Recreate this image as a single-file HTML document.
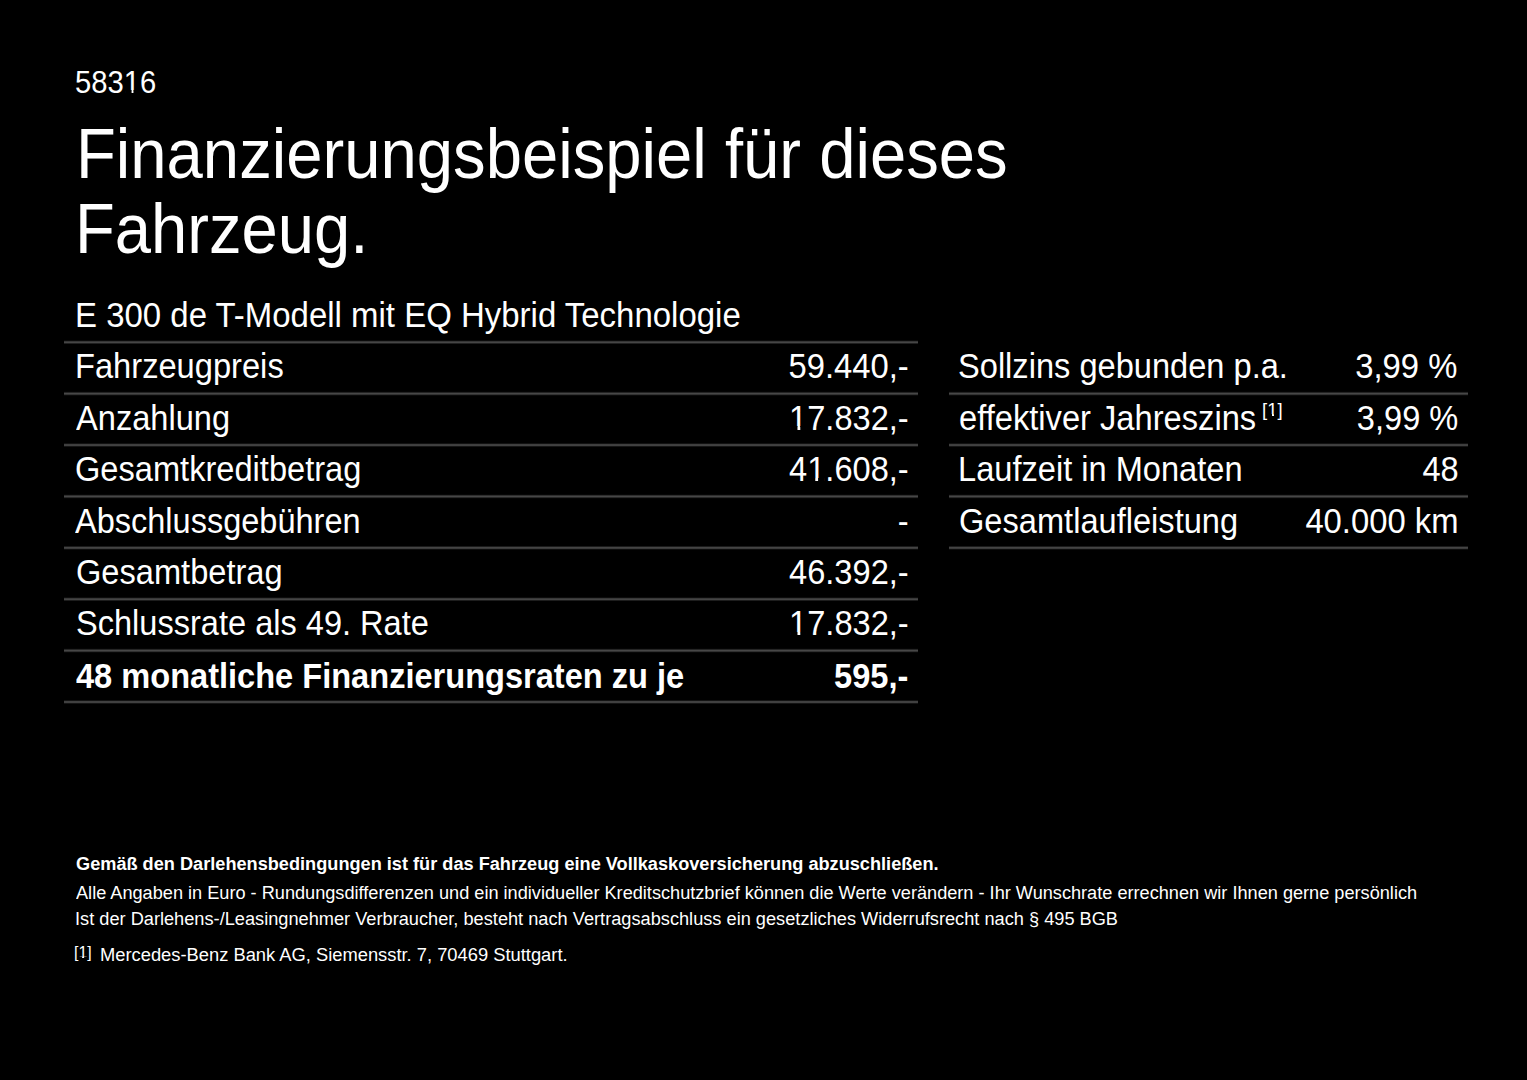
<!DOCTYPE html>
<html lang="de">
<head>
<meta charset="utf-8">
<title>Finanzierungsbeispiel</title>
<style>
html,body{margin:0;padding:0;background:#000;}
body{width:1527px;height:1080px;overflow:hidden;position:relative;color:#fff;font-family:"Liberation Sans",sans-serif;}
.t{position:absolute;white-space:nowrap;line-height:1;}
.l{position:absolute;height:2px;background:#4a4a4a;}
.bl{display:inline-block;width:0;height:0;}
.one{position:relative;}
.one::before,.one::after{content:"";position:absolute;background:#000;bottom:0.17em;height:0.125em;}
.one::before{left:0.05em;width:0.2035em;}
.one::after{left:0.338em;width:0.205em;}
.one.s::before{left:0.0em;width:0.245em;bottom:var(--b);height:1.3px;}
.one.s::after{left:0.348em;width:0.25em;bottom:var(--b);height:1.3px;}
</style>
</head>
<body>
<div class="l" style="left:64px;width:854px;top:340px;height:4px;background:linear-gradient(rgb(10,10,10) 0px,rgb(10,10,10) 1px,rgb(53,53,53) 1px,rgb(53,53,53) 2px,rgb(70,70,70) 2px,rgb(70,70,70) 3px,rgb(31,31,31) 3px,rgb(31,31,31) 4px)"></div>
<div class="l" style="left:64px;width:854px;top:391px;height:5px;background:linear-gradient(rgb(3,3,3) 0px,rgb(3,3,3) 1px,rgb(35,35,35) 1px,rgb(35,35,35) 2px,rgb(71,71,71) 2px,rgb(71,71,71) 3px,rgb(50,50,50) 3px,rgb(50,50,50) 4px,rgb(9,9,9) 4px,rgb(9,9,9) 5px)"></div>
<div class="l" style="left:64px;width:854px;top:443px;height:4px;background:linear-gradient(rgb(17,17,17) 0px,rgb(17,17,17) 1px,rgb(62,62,62) 1px,rgb(62,62,62) 2px,rgb(65,65,65) 2px,rgb(65,65,65) 3px,rgb(21,21,21) 3px,rgb(21,21,21) 4px)"></div>
<div class="l" style="left:64px;width:854px;top:494px;height:5px;background:linear-gradient(rgb(6,6,6) 0px,rgb(6,6,6) 1px,rgb(46,46,46) 1px,rgb(46,46,46) 2px,rgb(71,71,71) 2px,rgb(71,71,71) 3px,rgb(40,40,40) 3px,rgb(40,40,40) 4px,rgb(4,4,4) 4px,rgb(4,4,4) 5px)"></div>
<div class="l" style="left:64px;width:854px;top:546px;height:4px;background:linear-gradient(rgb(27,27,27) 0px,rgb(27,27,27) 1px,rgb(68,68,68) 1px,rgb(68,68,68) 2px,rgb(58,58,58) 2px,rgb(58,58,58) 3px,rgb(13,13,13) 3px,rgb(13,13,13) 4px)"></div>
<div class="l" style="left:64px;width:854px;top:597px;height:4px;background:linear-gradient(rgb(12,12,12) 0px,rgb(12,12,12) 1px,rgb(56,56,56) 1px,rgb(56,56,56) 2px,rgb(69,69,69) 2px,rgb(69,69,69) 3px,rgb(29,29,29) 3px,rgb(29,29,29) 4px)"></div>
<div class="l" style="left:64px;width:854px;top:648px;height:5px;background:linear-gradient(rgb(4,4,4) 0px,rgb(4,4,4) 1px,rgb(37,37,37) 1px,rgb(37,37,37) 2px,rgb(71,71,71) 2px,rgb(71,71,71) 3px,rgb(48,48,48) 3px,rgb(48,48,48) 4px,rgb(7,7,7) 4px,rgb(7,7,7) 5px)"></div>
<div class="l" style="left:64px;width:854px;top:700px;height:4px;background:linear-gradient(rgb(19,19,19) 0px,rgb(19,19,19) 1px,rgb(64,64,64) 1px,rgb(64,64,64) 2px,rgb(64,64,64) 2px,rgb(64,64,64) 3px,rgb(19,19,19) 3px,rgb(19,19,19) 4px)"></div>
<div class="l" style="left:949px;width:519px;top:391px;height:5px;background:linear-gradient(rgb(3,3,3) 0px,rgb(3,3,3) 1px,rgb(35,35,35) 1px,rgb(35,35,35) 2px,rgb(71,71,71) 2px,rgb(71,71,71) 3px,rgb(50,50,50) 3px,rgb(50,50,50) 4px,rgb(9,9,9) 4px,rgb(9,9,9) 5px)"></div>
<div class="l" style="left:949px;width:519px;top:443px;height:4px;background:linear-gradient(rgb(17,17,17) 0px,rgb(17,17,17) 1px,rgb(62,62,62) 1px,rgb(62,62,62) 2px,rgb(65,65,65) 2px,rgb(65,65,65) 3px,rgb(21,21,21) 3px,rgb(21,21,21) 4px)"></div>
<div class="l" style="left:949px;width:519px;top:494px;height:5px;background:linear-gradient(rgb(6,6,6) 0px,rgb(6,6,6) 1px,rgb(46,46,46) 1px,rgb(46,46,46) 2px,rgb(71,71,71) 2px,rgb(71,71,71) 3px,rgb(40,40,40) 3px,rgb(40,40,40) 4px,rgb(4,4,4) 4px,rgb(4,4,4) 5px)"></div>
<div class="l" style="left:949px;width:519px;top:546px;height:4px;background:linear-gradient(rgb(27,27,27) 0px,rgb(27,27,27) 1px,rgb(68,68,68) 1px,rgb(68,68,68) 2px,rgb(58,58,58) 2px,rgb(58,58,58) 3px,rgb(13,13,13) 3px,rgb(13,13,13) 4px)"></div>
<div class="t" id="code" style="top:66.51px;font-size:31.5px;left:74.73px;transform:scaleX(0.9276);transform-origin:left center;"><span class="bl"></span>583<span class="one">1</span>6</div>
<div class="t" id="t1" style="top:118.70px;font-size:70px;left:76.28px;transform:scaleX(0.9317);transform-origin:left center;"><span class="bl"></span>Finanzierungsbeispiel für dieses</div>
<div class="t" id="t2" style="top:194.11px;font-size:70px;left:75.30px;transform:scaleX(0.9306);transform-origin:left center;"><span class="bl"></span>Fahrzeug.</div>
<div class="t" id="sub" style="top:298.21px;font-size:34.8px;left:75.39px;transform:scaleX(0.9473);transform-origin:left center;"><span class="bl"></span>E 300 de T-Modell mit EQ Hybrid Technologie</div>
<div class="t" id="l0" style="top:349.31px;font-size:34.8px;left:74.97px;transform:scaleX(0.9383);transform-origin:left center;"><span class="bl"></span>Fahrzeugpreis</div>
<div class="t" id="v0" style="top:349.31px;font-size:34.8px;right:618.49px;transform:scaleX(0.9414);transform-origin:right center;"><span class="bl"></span>59.440,-</div>
<div class="t" id="l1" style="top:400.71px;font-size:34.8px;left:75.98px;transform:scaleX(0.9370);transform-origin:left center;"><span class="bl"></span>Anzahlung</div>
<div class="t" id="v1" style="top:400.71px;font-size:34.8px;right:618.40px;transform:scaleX(0.9370);transform-origin:right center;"><span class="bl"></span><span class="one">1</span>7.832,-</div>
<div class="t" id="l2" style="top:452.10px;font-size:34.8px;left:75.07px;transform:scaleX(0.9370);transform-origin:left center;"><span class="bl"></span>Gesamtkreditbetrag</div>
<div class="t" id="v2" style="top:452.10px;font-size:34.8px;right:618.40px;transform:scaleX(0.9370);transform-origin:right center;"><span class="bl"></span>4<span class="one">1</span>.608,-</div>
<div class="t" id="l3" style="top:503.51px;font-size:34.8px;left:75.48px;transform:scaleX(0.9344);transform-origin:left center;"><span class="bl"></span>Abschlussgebühren</div>
<div class="t" id="v3" style="top:503.51px;font-size:34.8px;right:618.40px;transform:scaleX(0.9370);transform-origin:right center;"><span class="bl"></span>-</div>
<div class="t" id="l4" style="top:554.91px;font-size:34.8px;left:75.57px;transform:scaleX(0.9370);transform-origin:left center;"><span class="bl"></span>Gesamtbetrag</div>
<div class="t" id="v4" style="top:554.91px;font-size:34.8px;right:618.40px;transform:scaleX(0.9370);transform-origin:right center;"><span class="bl"></span>46.392,-</div>
<div class="t" id="l5" style="top:606.30px;font-size:34.8px;left:75.69px;transform:scaleX(0.9356);transform-origin:left center;"><span class="bl"></span>Schlussrate als 49. Rate</div>
<div class="t" id="v5" style="top:606.30px;font-size:34.8px;right:618.40px;transform:scaleX(0.9370);transform-origin:right center;"><span class="bl"></span><span class="one">1</span>7.832,-</div>
<div class="t" id="l6" style="top:658.60px;font-size:34.8px;font-weight:700;left:76.12px;transform:scaleX(0.9361);transform-origin:left center;"><span class="bl"></span>48 monatliche Finanzierungsraten zu je</div>
<div class="t" id="v6" style="top:658.60px;font-size:34.8px;font-weight:700;right:618.97px;transform:scaleX(0.9370);transform-origin:right center;"><span class="bl"></span>595,-</div>
<div class="t" id="rl0" style="top:349.31px;font-size:34.8px;left:958.19px;transform:scaleX(0.9370);transform-origin:left center;"><span class="bl"></span>Sollzins gebunden p.a.</div>
<div class="t" id="rv0" style="top:349.31px;font-size:34.8px;right:69.44px;transform:scaleX(0.9424);transform-origin:right center;"><span class="bl"></span>3,99 %</div>
<div class="t" id="rl1" style="top:400.71px;font-size:34.8px;left:959.06px;transform:scaleX(0.9389);transform-origin:left center;"><span class="bl"></span>effektiver Jahreszins</div>
<div class="t" id="rv1" style="top:400.71px;font-size:34.8px;right:69.00px;transform:scaleX(0.9370);transform-origin:right center;"><span class="bl"></span>3,99 %</div>
<div class="t" id="rl2" style="top:452.10px;font-size:34.8px;left:958.47px;transform:scaleX(0.9370);transform-origin:left center;"><span class="bl"></span>Laufzeit in Monaten</div>
<div class="t" id="rv2" style="top:452.10px;font-size:34.8px;right:68.44px;transform:scaleX(0.9370);transform-origin:right center;"><span class="bl"></span>48</div>
<div class="t" id="rl3" style="top:503.51px;font-size:34.8px;left:958.57px;transform:scaleX(0.9370);transform-origin:left center;"><span class="bl"></span>Gesamtlaufleistung</div>
<div class="t" id="rv3" style="top:503.51px;font-size:34.8px;right:68.08px;transform:scaleX(0.9423);transform-origin:right center;"><span class="bl"></span>40.000 km</div>
<div class="t" id="sup" style="top:400.60px;font-size:18.5px;left:1262.49px;transform:scaleX(0.9995);transform-origin:left center;"><span class="bl"></span>[<span class="one s" style="--b:4px">1</span>]</div>
<div class="t" id="f1" style="top:854.82px;font-size:18px;font-weight:700;left:75.72px;transform:scaleX(1.0090);transform-origin:left center;"><span class="bl"></span>Gemäß den Darlehensbedingungen ist für das Fahrzeug eine Vollkaskoversicherung abzuschließen.</div>
<div class="t" id="f2" style="top:884.41px;font-size:18px;left:75.58px;transform:scaleX(1.0085);transform-origin:left center;"><span class="bl"></span>Alle Angaben in Euro - Rundungsdifferenzen und ein individueller Kreditschutzbrief können die Werte verändern - Ihr Wunschrate errechnen wir Ihnen gerne persönlich</div>
<div class="t" id="f3" style="top:910.21px;font-size:18px;left:74.52px;transform:scaleX(1.0111);transform-origin:left center;"><span class="bl"></span>Ist der Darlehens-/Leasingnehmer Verbraucher, besteht nach Vertragsabschluss ein gesetzliches Widerrufsrecht nach § 495 BGB</div>
<div class="t" id="fn" style="top:944.81px;font-size:15.7px;left:74.19px;transform:scaleX(1.0115);transform-origin:left center;"><span class="bl"></span>[<span class="one s" style="--b:3px">1</span>]</div>
<div class="t" id="f4" style="top:946.00px;font-size:18px;left:100.41px;transform:scaleX(1.0182);transform-origin:left center;"><span class="bl"></span>Mercedes-Benz Bank AG, Siemensstr. 7, 70469 Stuttgart.</div>
</body>
</html>
